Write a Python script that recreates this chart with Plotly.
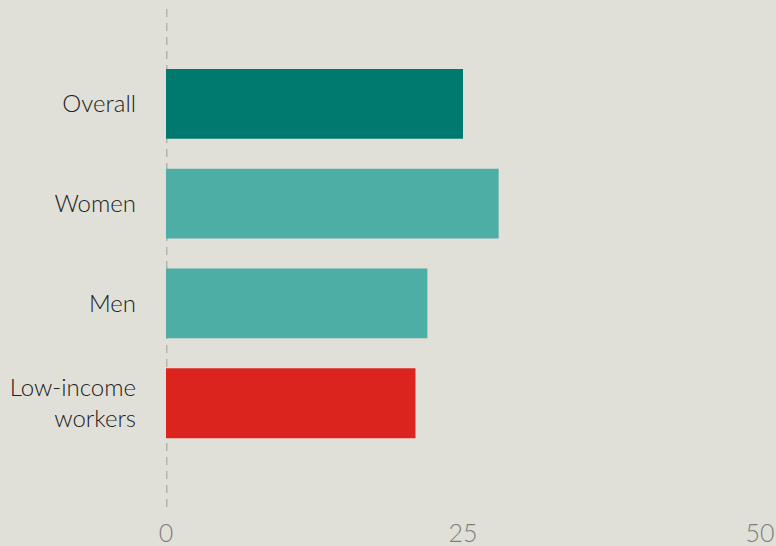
import plotly.graph_objects as go

# Share of each group (percent)
categories = ["Overall", "Women", "Men", "Low-income<br>workers"]
values = [25, 28, 22, 21]
bar_colors = ["#007A6E", "#4DAEA5", "#4DAEA5", "#DC241F"]
x_ticks = [0, 25, 50]

fig = go.Figure(
    go.Bar(
        x=values,
        y=categories,
        orientation="h",
        marker=dict(color=bar_colors, line=dict(width=0)),
        width=0.7,
        hoverinfo="x+y",
    )
)

# dashed baseline at zero
fig.add_shape(
    type="line", xref="x", yref="paper",
    x0=0, x1=0, y0=0, y1=1,
    line=dict(color="#B4B4AC", width=3, dash="8px,6px"),
    layer="below",
)

fig.update_layout(
    width=776,
    height=546,
    margin=dict(l=166, r=16, t=9, b=39, autoexpand=False),
    paper_bgcolor="#E0E0D8",
    plot_bgcolor="#E0E0D8",
    showlegend=False,
    font=dict(family="Lato", size=24, color="#222222", weight=300),
    bargap=0.3,
)

fig.update_xaxes(
    range=[0, 50],
    tickvals=x_ticks,
    ticktext=[str(t) for t in x_ticks],
    showgrid=False,
    zeroline=False,
    showline=False,
    ticks="",
    tickfont=dict(size=25, color="#7E7E7E", weight=300),
    ticklabelstandoff=9,
    automargin=False,
    fixedrange=True,
)

fig.update_yaxes(
    categoryorder="array",
    categoryarray=categories,
    range=[4.04, -0.95],
    showgrid=False,
    zeroline=False,
    showline=False,
    ticks="",
    tickfont=dict(size=24, color="#222222", weight=300),
    ticklabelstandoff=29,
    automargin=False,
    fixedrange=True,
)

fig.write_html("out.html")
